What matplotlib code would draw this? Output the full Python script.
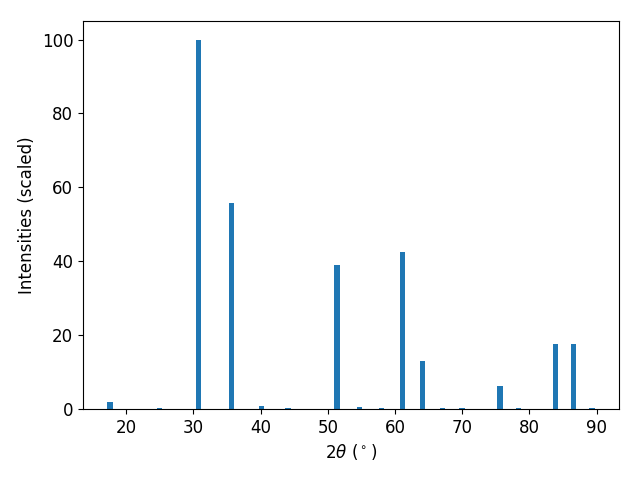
import matplotlib
matplotlib.use("Agg")
from matplotlib import pyplot as plt

plt.rcParams["font.size"] = 12

# peak positions (2theta, degrees) and scaled intensities
two_theta = [17.6, 25.0, 30.8, 35.7, 40.1, 44.1, 51.4, 54.7, 58.0, 61.1,
             64.1, 67.1, 70.0, 75.65, 78.4, 83.9, 86.6, 89.3]
intensity = [1.9, 0.3, 100.0, 55.7, 0.9, 0.3, 38.9, 0.6, 0.3, 42.4,
             13.1, 0.3, 0.3, 6.1, 0.3, 17.5, 17.5, 0.3]

fig = plt.figure(figsize=(6.4, 4.8), dpi=100)
plt.bar(two_theta, intensity)
plt.xlabel(r"$2\theta$ ($^\circ$)")
plt.ylabel("Intensities (scaled)")
plt.subplots_adjust(left=0.1297, right=0.967, top=0.956, bottom=0.148)
plt.savefig("out.png")
